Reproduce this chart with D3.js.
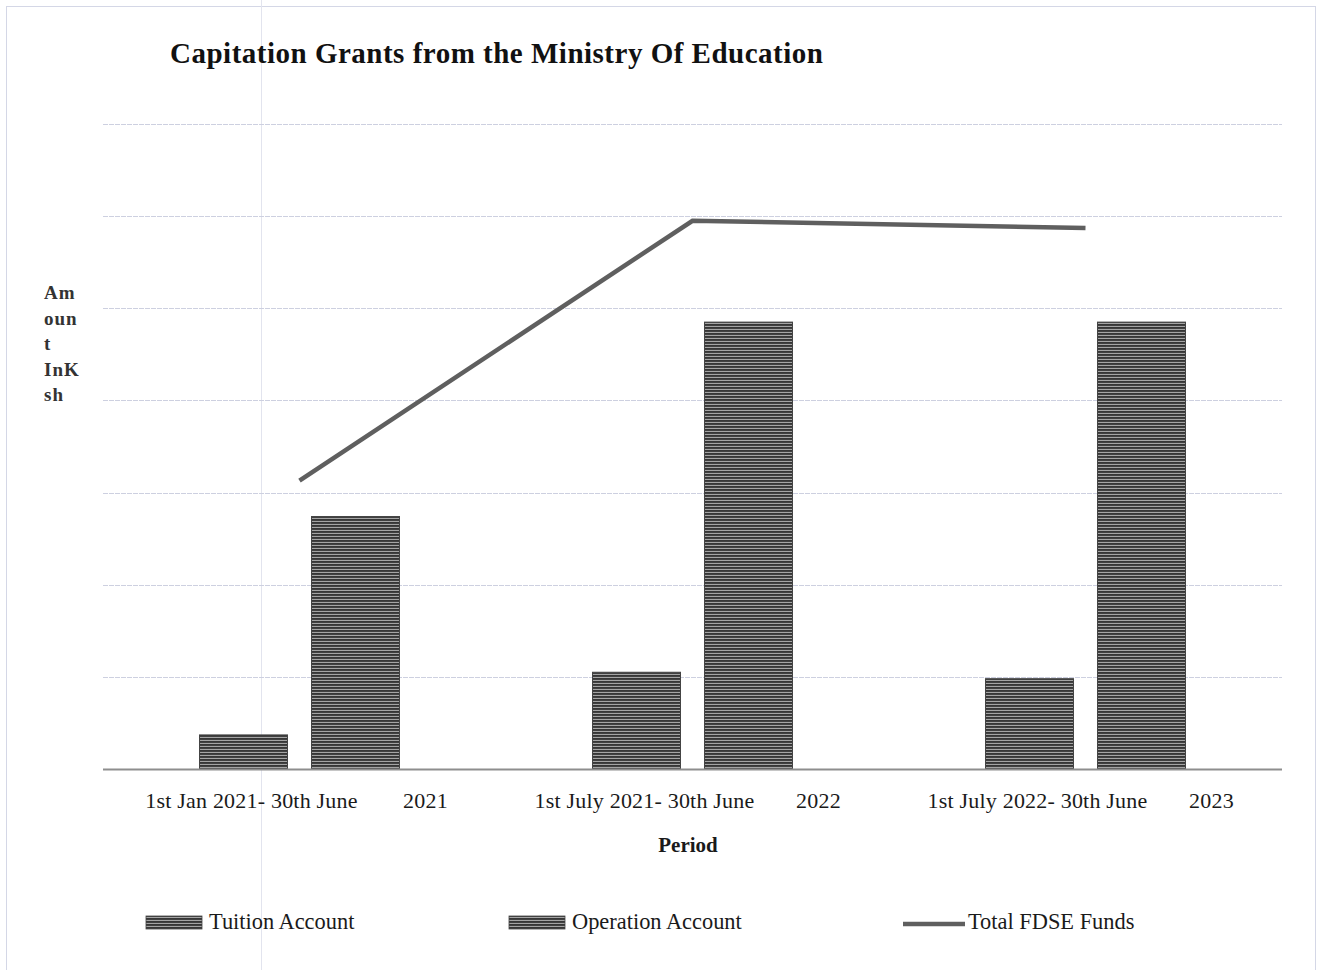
<!DOCTYPE html>
<html>
<head>
<meta charset="utf-8">
<script src="https://cdn.jsdelivr.net/npm/d3@7/dist/d3.min.js"></script>
<style>
html,body{margin:0;padding:0;background:#fff;}
svg{display:block;}
text{font-family:"Liberation Serif","Times New Roman",serif;}
</style>
</head>
<body>
<svg id="chart" width="1320" height="970"></svg>
<script>
// ---- data (grid units of the value axis; no tick labels in the original) ----
const periods = ["1st Jan 2021- 30th June", "1st July 2021- 30th June", "1st July 2022- 30th June"];
const periodYears = ["2021", "2022", "2023"];
const tuition = [0.37, 1.05, 0.98];
const operation = [2.74, 4.85, 4.85];
const totalFunds = [3.13, 5.95, 5.87];
const yTicks = [0, 1, 2, 3, 4, 5, 6, 7];
const seriesNames = ["Tuition Account", "Operation Account", "Total FDSE Funds"];

const svg = d3.select("#chart");
const m = {left: 103, right: 1282, top: 124, bottom: 769};

// faint page frame (scan artefacts)
const frame = svg.append("g").attr("stroke", "#d4d7e6").attr("stroke-width", 1).attr("fill", "none");
frame.append("line").attr("x1", 6).attr("x2", 1316).attr("y1", 6.5).attr("y2", 6.5);
frame.append("line").attr("x1", 6.5).attr("x2", 6.5).attr("y1", 6).attr("y2", 970);
frame.append("line").attr("x1", 1315.5).attr("x2", 1315.5).attr("y1", 6).attr("y2", 970);
frame.append("line").attr("x1", 261.5).attr("x2", 261.5).attr("y1", 0).attr("y2", 970).attr("stroke", "#e2e4ee");

// stripe pattern for bars
const defs = svg.append("defs");
const pat = defs.append("pattern").attr("id", "stripes").attr("patternUnits", "userSpaceOnUse")
  .attr("width", 8).attr("height", 3);
pat.append("rect").attr("width", 8).attr("height", 3).attr("fill", "#a4a4a4");
pat.append("rect").attr("width", 8).attr("height", 1.9).attr("fill", "#363636");

const x0 = d3.scaleBand().domain(periods).range([m.left, m.right]).paddingInner(0).paddingOuter(0);
const y = d3.scaleLinear().domain([0, 7]).range([m.bottom, m.top]);

// gridlines
svg.append("g").selectAll("line").data(yTicks.filter(d => d > 0)).join("line")
  .attr("x1", m.left).attr("x2", m.right)
  .attr("y1", d => Math.round(y(d)) + 0.5).attr("y2", d => Math.round(y(d)) + 0.5)
  .attr("stroke", "#cdd0e0").attr("stroke-width", 1).attr("stroke-dasharray", "5,1");

// bars
const barW = 88, gap = 24;
const bars = svg.append("g");
periods.forEach((p, i) => {
  const cx = x0(p) + x0.bandwidth() / 2;
  [[tuition[i], cx - gap / 2 - barW], [operation[i], cx + gap / 2]].forEach(([v, bx]) => {
    bars.append("rect")
      .attr("x", bx).attr("width", barW)
      .attr("y", y(v)).attr("height", y(0) - y(v))
      .attr("fill", "url(#stripes)")
      .attr("stroke", "#444").attr("stroke-width", 1);
  });
});

// baseline
svg.append("line").attr("x1", m.left).attr("x2", m.right)
  .attr("y1", y(0) + 0.5).attr("y2", y(0) + 0.5)
  .attr("stroke", "#8e8e8e").attr("stroke-width", 2);

// total line
const line = d3.line()
  .x((d, i) => x0(periods[i]) + x0.bandwidth() / 2)
  .y(d => y(d));
svg.append("path").datum(totalFunds).attr("d", line)
  .attr("fill", "none").attr("stroke", "#5f5f5f").attr("stroke-width", 4.5)
  .attr("stroke-linejoin", "miter");

// category labels
const labels = svg.append("g").attr("font-size", 22).attr("letter-spacing", 0.2).attr("fill", "#1a1a1a");
periods.forEach((p, i) => {
  const cx = x0(p) + x0.bandwidth() / 2;
  labels.append("text").attr("x", cx - 48).attr("y", 808).attr("text-anchor", "middle").text(p);
  labels.append("text").attr("x", cx + 126).attr("y", 808).attr("text-anchor", "middle").text(periodYears[i]);
});

// axis title
svg.append("text").attr("x", 688).attr("y", 852).attr("text-anchor", "middle")
  .attr("font-size", 21).attr("font-weight", "bold").attr("fill", "#1a1a1a").text("Period");

// y label (wrapped as in original)
const yl = ["Am", "oun", "t", "InK", "sh"];
svg.append("g").selectAll("text").data(yl).join("text")
  .attr("x", 44).attr("y", (d, i) => 299 + i * 25.6)
  .attr("font-size", 19).attr("font-weight", "bold").attr("fill", "#333")
  .attr("letter-spacing", 1)
  .text(d => d);

// title
svg.append("text").attr("x", 170).attr("y", 63)
  .attr("font-size", 29).attr("letter-spacing", 0.5).attr("font-weight", "bold").attr("fill", "#111")
  .text("Capitation Grants from the Ministry Of Education");

// legend
const lg = svg.append("g").attr("font-size", 22.4).attr("fill", "#1a1a1a");
const legendX = [146, 509, 903];
seriesNames.forEach((n, i) => {
  if (i < 2) {
    lg.append("rect").attr("x", legendX[i]).attr("y", 916).attr("width", 56).attr("height", 13)
      .attr("fill", "url(#stripes)").attr("stroke", "#444").attr("stroke-width", 0.8);
    lg.append("text").attr("x", legendX[i] + 63).attr("y", 929).text(n);
  } else {
    lg.append("line").attr("x1", legendX[i]).attr("x2", legendX[i] + 62)
      .attr("y1", 924).attr("y2", 924).attr("stroke", "#5f5f5f").attr("stroke-width", 4.5);
    lg.append("text").attr("x", legendX[i] + 65).attr("y", 929).text(n);
  }
});
</script>
</body>
</html>
